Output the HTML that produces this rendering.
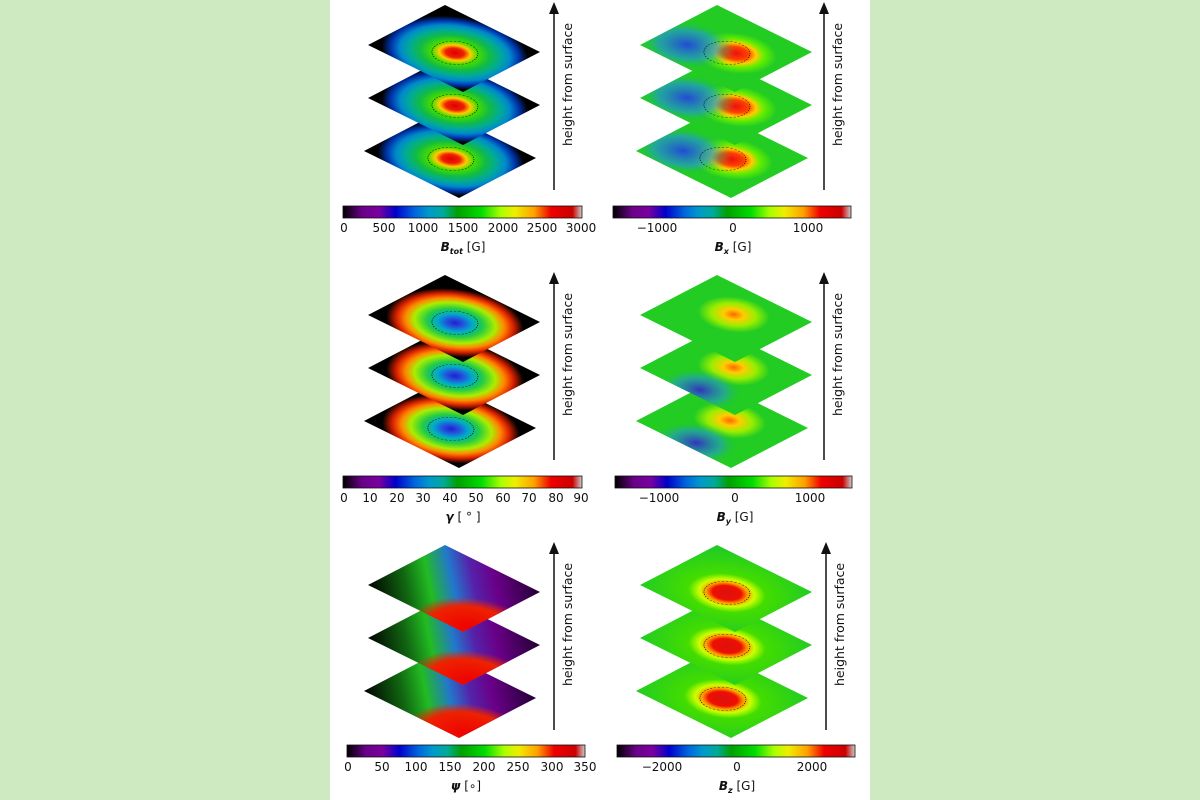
<!DOCTYPE html>
<html><head><meta charset="utf-8"><style>
html,body{margin:0;padding:0;background:#cdeac0;}
svg{display:block;}
text{font-family:"DejaVu Sans","Liberation Sans",sans-serif;fill:#111;}
</style></head><body>
<svg id="s" width="1200" height="800" viewBox="0 0 1200 800" xmlns="http://www.w3.org/2000/svg">
<defs>
<linearGradient id="ns" x1="0" x2="1" y1="0" y2="0">
<stop offset="0" stop-color="#000"/><stop offset="0.08" stop-color="#6a0088"/><stop offset="0.15" stop-color="#7a00a0"/>
<stop offset="0.22" stop-color="#0000cc"/><stop offset="0.3" stop-color="#0066dd"/><stop offset="0.36" stop-color="#0099cc"/>
<stop offset="0.42" stop-color="#00aa99"/><stop offset="0.48" stop-color="#00a000"/><stop offset="0.58" stop-color="#00dd00"/>
<stop offset="0.66" stop-color="#aaff00"/><stop offset="0.72" stop-color="#eeee00"/><stop offset="0.8" stop-color="#ffa000"/>
<stop offset="0.87" stop-color="#ee0000"/><stop offset="0.96" stop-color="#cc0000"/><stop offset="1" stop-color="#cccccc"/>
</linearGradient>
<radialGradient id="gBtot" cx="0.45" cy="0.55" r="0.75">
<stop offset="0" stop-color="#dd0000"/><stop offset="0.1" stop-color="#ee2000"/><stop offset="0.17" stop-color="#ffcc00"/>
<stop offset="0.25" stop-color="#44dd00"/><stop offset="0.38" stop-color="#11bb44"/><stop offset="0.5" stop-color="#00aa99"/>
<stop offset="0.6" stop-color="#0088cc"/><stop offset="0.7" stop-color="#0033aa"/><stop offset="0.8" stop-color="#000"/><stop offset="1" stop-color="#000"/>
</radialGradient>
<radialGradient id="gBx" cx="0.5" cy="0.6" r="0.7">
<stop offset="0" stop-color="#ee1010"/><stop offset="0.15" stop-color="#ff4000"/><stop offset="0.24" stop-color="#ffcc00"/>
<stop offset="0.33" stop-color="#66ee00"/><stop offset="0.48" stop-color="#22cc22"/><stop offset="1" stop-color="#22cc22"/>
</radialGradient>
<radialGradient id="gBxb" cx="0.3" cy="0.25" r="0.4">
<stop offset="0" stop-color="#2244dd" stop-opacity="0.95"/><stop offset="0.6" stop-color="#2299cc" stop-opacity="0.7"/><stop offset="1" stop-color="#22cc22" stop-opacity="0"/>
</radialGradient>
<radialGradient id="gGam" cx="0.45" cy="0.55" r="0.72">
<stop offset="0" stop-color="#2020cc"/><stop offset="0.1" stop-color="#2255dd"/><stop offset="0.2" stop-color="#00aacc"/>
<stop offset="0.32" stop-color="#22cc44"/><stop offset="0.46" stop-color="#aaee00"/><stop offset="0.56" stop-color="#ff8800"/>
<stop offset="0.66" stop-color="#dd2200"/><stop offset="0.78" stop-color="#000"/><stop offset="1" stop-color="#000"/>
</radialGradient>
<radialGradient id="gBy" cx="0.6" cy="0.5" r="0.7">
<stop offset="0" stop-color="#ff6600"/><stop offset="0.12" stop-color="#ffcc00"/><stop offset="0.26" stop-color="#99ee00"/>
<stop offset="0.42" stop-color="#22cc22"/><stop offset="1" stop-color="#22cc22"/>
</radialGradient>
<radialGradient id="gByb" cx="0.1" cy="0.55" r="0.35">
<stop offset="0" stop-color="#3322cc" stop-opacity="0.9"/><stop offset="0.6" stop-color="#2299cc" stop-opacity="0.6"/><stop offset="1" stop-color="#22cc22" stop-opacity="0"/>
</radialGradient>
<linearGradient id="gPsi" x1="0" y1="0" x2="1" y2="1">
<stop offset="0" stop-color="#000"/><stop offset="0.22" stop-color="#116611"/><stop offset="0.36" stop-color="#22bb22"/>
<stop offset="0.5" stop-color="#2277cc"/><stop offset="0.62" stop-color="#5522aa"/><stop offset="0.75" stop-color="#6a0088"/><stop offset="1" stop-color="#220033"/>
</linearGradient>
<radialGradient id="gPsiR" cx="0.1" cy="1" r="0.5">
<stop offset="0" stop-color="#ee0000"/><stop offset="0.7" stop-color="#ee2200"/><stop offset="1" stop-color="#ee2200" stop-opacity="0"/>
</radialGradient>
<radialGradient id="gBz" cx="0.45" cy="0.55" r="0.7">
<stop offset="0" stop-color="#dd1010"/><stop offset="0.17" stop-color="#ee1000"/><stop offset="0.24" stop-color="#ff9900"/>
<stop offset="0.32" stop-color="#ccff00"/><stop offset="0.45" stop-color="#44dd00"/><stop offset="1" stop-color="#22cc22"/>
</radialGradient>
</defs>
<rect x="330" y="0" width="540" height="800" fill="#fff"/>
<g id="dia"></g>

<g stroke="#111" stroke-width="1.5">
<line x1="554" y1="190" x2="554" y2="10"/><line x1="824" y1="190" x2="824" y2="10"/>
<line x1="554" y1="460" x2="554" y2="280"/><line x1="824" y1="460" x2="824" y2="280"/>
<line x1="554" y1="730" x2="554" y2="550"/><line x1="826" y1="730" x2="826" y2="550"/>
</g>
<g fill="#111">
<path d="M549,14 L554,2 L559,14Z"/><path d="M819,14 L824,2 L829,14Z"/>
<path d="M549,284 L554,272 L559,284Z"/><path d="M819,284 L824,272 L829,284Z"/>
<path d="M549,554 L554,542 L559,554Z"/><path d="M821,554 L826,542 L831,554Z"/>
</g>
<g font-size="12.5">
<text transform="translate(572,146) rotate(-90)">height from surface</text>
<text transform="translate(842,146) rotate(-90)">height from surface</text>
<text transform="translate(572,416) rotate(-90)">height from surface</text>
<text transform="translate(842,416) rotate(-90)">height from surface</text>
<text transform="translate(572,686) rotate(-90)">height from surface</text>
<text transform="translate(844,686) rotate(-90)">height from surface</text>
</g>

<g stroke="#111" stroke-width="0.8" fill="url(#ns)">
<rect x="343" y="206" width="239" height="12"/>
<rect x="613" y="206" width="238" height="12"/>
<rect x="343" y="476" width="239" height="12"/>
<rect x="615" y="476" width="237" height="12"/>
<rect x="347" y="745" width="238" height="12"/>
<rect x="617" y="745" width="238" height="12"/>
</g>
<g font-size="12" text-anchor="middle">
<text x="344" y="232">0</text><text x="384" y="232">500</text><text x="423" y="232">1000</text><text x="463" y="232">1500</text><text x="503" y="232">2000</text><text x="542" y="232">2500</text><text x="581" y="232">3000</text>
<text x="657" y="232">−1000</text><text x="733" y="232">0</text><text x="808" y="232">1000</text>
<text x="344" y="502">0</text><text x="370" y="502">10</text><text x="397" y="502">20</text><text x="423" y="502">30</text><text x="450" y="502">40</text><text x="476" y="502">50</text><text x="503" y="502">60</text><text x="529" y="502">70</text><text x="556" y="502">80</text><text x="581" y="502">90</text>
<text x="659" y="502">−1000</text><text x="735" y="502">0</text><text x="810" y="502">1000</text>
<text x="348" y="771">0</text><text x="382" y="771">50</text><text x="416" y="771">100</text><text x="450" y="771">150</text><text x="484" y="771">200</text><text x="518" y="771">250</text><text x="552" y="771">300</text><text x="585" y="771">350</text>
<text x="662" y="771">−2000</text><text x="737" y="771">0</text><text x="812" y="771">2000</text>
</g>
<g font-size="12" text-anchor="middle">
<text x="463" y="251"><tspan font-weight="bold" font-style="italic">B</tspan><tspan font-weight="bold" font-style="italic" font-size="8" dy="3">tot</tspan><tspan dy="-3"> [G]</tspan></text>
<text x="733" y="251"><tspan font-weight="bold" font-style="italic">B</tspan><tspan font-weight="bold" font-style="italic" font-size="8" dy="3">x</tspan><tspan dy="-3"> [G]</tspan></text>
<text x="463" y="521"><tspan font-weight="bold" font-style="italic">γ</tspan> [ ° ]</text>
<text x="735" y="521"><tspan font-weight="bold" font-style="italic">B</tspan><tspan font-weight="bold" font-style="italic" font-size="8" dy="3">y</tspan><tspan dy="-3"> [G]</tspan></text>
<text x="466" y="790"><tspan font-weight="bold" font-style="italic">ψ</tspan> [∘]</text>
<text x="737" y="790"><tspan font-weight="bold" font-style="italic">B</tspan><tspan font-weight="bold" font-style="italic" font-size="8" dy="3">z</tspan><tspan dy="-3"> [G]</tspan></text>
</g>
</svg>
<script>
(function(){
var g=document.getElementById('dia');var NS='http://www.w3.org/2000/svg';
function el(n,a,p){var e=document.createElementNS(NS,n);for(var k in a)e.setAttribute(k,a[k]);(p||g).appendChild(e);return e;}
var panels=[
 [0,0,['gBtot'],1],[272,0,['gBx','gBxb'],1],
 [0,270,['gGam'],1],[272,270,['gBy','gByb'],0],
 [0,540,['gPsi','gPsiR'],0],[272,540,['gBz'],1]];
panels.forEach(function(p){
  for(var i=2;i>=0;i--){
    var ox=368+p[0]-(i==2?4:0), oy=45+p[1]+i*53;
    var t=el('g',{transform:'matrix(77,-40,95,47,'+ox+','+oy+')'});
    p[2].forEach(function(id,k){ if(id=='gByb' && i==0) return; el('rect',{x:0,y:0,width:1,height:1,fill:'url(#'+id+')'},t);});
    if(p[3]) el('ellipse',{cx:0.45,cy:0.55,rx:0.2,ry:0.18,fill:'none',stroke:'#111','stroke-width':0.006,'stroke-dasharray':'0.02 0.015'},t);
  }
});
})();
</script>
</body></html>
